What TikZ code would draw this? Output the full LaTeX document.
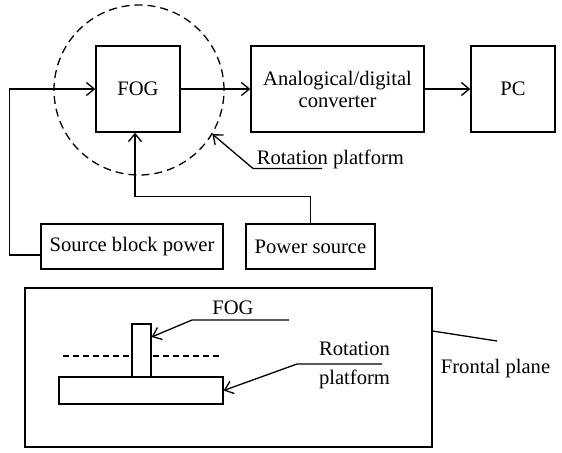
\documentclass[tikz,border=0pt]{standalone}
\usepackage{fontspec}
\setmainfont{Liberation Serif}
\usetikzlibrary{arrows.meta,positioning}
\tikzset{blk/.style={draw, line width=0.65pt, inner sep=0pt, align=center}}
\tikzset{ar/.style={draw, line width=0.65pt, -{Straight Barb[length=4pt,width=6.5pt]}}}
\tikzset{ln/.style={draw, line width=0.65pt}}
\tikzset{dsh/.style={draw, line width=0.65pt, dash pattern=on 4pt off 2.5pt}}

\begin{document}
\begin{tikzpicture}[x=0.5pt,y=-0.5pt]
        \tikzstyle{every node}=[font=\fontsize{10.3}{11}\selectfont]
        \useasboundingbox (0,0) rectangle (562,452);
        %% block diagram
        \node (rot) at (139,90) [circle, dsh, minimum size=85pt, inner sep=0pt] {};
        \node (fog) at (138,89) [blk, minimum width=42pt, minimum height=43pt] {FOG};
        \node (adc) at (337.5,89) [blk, minimum width=86.5pt, minimum height=43pt] {Analogical/digital\\converter};
        \node (pc) at (513,89) [blk, minimum width=42pt, minimum height=43pt] {PC};
        \node (sbp) at (132,246.5) [blk, minimum width=91pt, minimum height=22.5pt] {Source block power};
        \node (psrc) at (310.5,246.5) [blk, minimum width=64.5pt, minimum height=22.5pt] {Power source};
        \node (rotl) at (256.5,164) [anchor=base west, inner sep=0pt] {Rotation platform};
        \coordinate (rotend) at (322,168.5);
        \draw [ar] (fog) -- (adc);
        \draw [ar] (adc) -- (pc);
        \draw [ar] ([yshift=-4.25pt]sbp.west) -| ([xshift=-43pt]fog.west) -- (fog.west);
        \draw [ar] (psrc.north) -- ++(0,-27) -| ([xshift=-1.5pt]fog.south);
        \draw [ar] (rotend) -- ++(-69,0) -- (rot.-31.6);
        %% frontal plane
        \node (frame) at (228.5,367.5) [blk, minimum width=203.5pt, minimum height=79.5pt] {};
        \draw [ln, dash pattern=on 3pt off 2pt] (63,356) -- (220,356);
        \node (gyro) at (141.5,350.5) [blk, fill=white, minimum width=9.5pt, minimum height=26.5pt] {};
        \node (plat) at (141,390.5) [blk, minimum width=82pt, minimum height=13.5pt] {};
        \node (fogl) at (233,314) [anchor=base, inner sep=0pt] {FOG};
        \coordinate (fogend) at (289,320);
        \draw [ar] (fogend) -- ++(-97,0) -- ([yshift=6.75pt]gyro.east);
        \node (rotl2a) at (354.5,355) [anchor=base, inner sep=0pt] {Rotation};
        \node (rotl2b) at (354.5,384) [anchor=base, inner sep=0pt] {platform};
        \coordinate (platend) at (382,364);
        \draw [ar] (platend) -- ++(-85,0) -- (plat.east);
        \node (fpl) at (440.5,373) [anchor=base west, inner sep=0pt] {Frontal plane};
        \coordinate (fplend) at (497,341);
        \draw [ln] ([yshift=18.25pt]frame.east) -- (fplend);
\end{tikzpicture}
\end{document}
